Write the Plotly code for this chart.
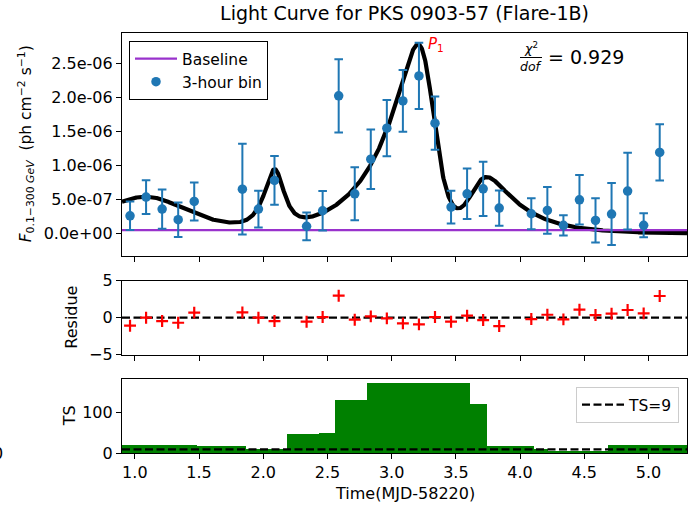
import numpy as np
import plotly.graph_objects as go

# ---------------- data ----------------
# 3-hour binned light curve, time in MJD-58220
time_bins = [0.9625, 1.0875, 1.2125, 1.3375, 1.4625, 1.8375, 1.9625, 2.0875,
             2.3375, 2.4625, 2.5875, 2.7125, 2.8375, 2.9625, 3.0875, 3.2125,
             3.3375, 3.4625, 3.5875, 3.7125, 3.8375, 4.0875, 4.2125, 4.3375,
             4.4625, 4.5875, 4.7125, 4.8375, 4.9625, 5.0875]
# photon flux (ph cm^-2 s^-1)
flux = [2.59e-7, 5.35e-7, 3.58e-7, 2.01e-7, 4.71e-7, 6.52e-7, 3.58e-7, 7.80e-7,
        1.03e-7, 3.33e-7, 2.027e-6, 5.83e-7, 1.094e-6, 1.551e-6, 1.953e-6, 2.321e-6,
        1.624e-6, 3.87e-7, 5.83e-7, 6.57e-7, 3.73e-7, 2.89e-7, 3.38e-7, 1.18e-7,
        4.95e-7, 1.91e-7, 2.84e-7, 6.23e-7, 1.18e-7, 1.193e-6]
flux_err = [2.09e-7, 2.48e-7, 2.90e-7, 2.55e-7, 2.80e-7, 6.70e-7, 2.70e-7, 3.59e-7,
            2.04e-7, 2.90e-7, 5.40e-7, 3.90e-7, 4.39e-7, 4.15e-7, 4.54e-7, 4.89e-7,
            3.93e-7, 2.40e-7, 3.73e-7, 4.00e-7, 2.60e-7, 2.29e-7, 3.44e-7, 1.50e-7,
            3.66e-7, 3.27e-7, 4.57e-7, 5.65e-7, 1.77e-7, 4.15e-7]
# normalised residuals of the fit
residue = [-1.08, 0.0, -0.45, -0.68, 0.68, 0.72, 0.0, -0.45, -0.54, 0.09,
           2.97, -0.27, 0.18, -0.09, -0.77, -0.9, 0.09, -0.54, 0.27, -0.32,
           -1.13, -0.18, 0.4, -0.22, 1.08, 0.36, 0.54, 1.04, 0.59, 2.93]
baseline_flux = 4.8e-8

# fitted flare components: F(t) = Fc + sum 2*F0 / (exp((t0-t)/Tr) + exp((t-t0)/Td))
flare_amp = [0.535e-6, 0.82e-6, 2.26e-6, 0.70e-6]
flare_t0 = [1.11, 2.095, 3.287, 3.665]
flare_rise = [0.35, 0.075, 0.30, 0.08]
flare_decay = [0.29, 0.06, 0.07, 0.28]
flare_const = 0.0
chi2_dof = 0.929

# test statistic per block
ts_edges = [0.90, 1.485, 1.867, 2.185, 2.437, 2.561, 2.808, 3.611, 3.743,
            4.112, 4.220, 4.687, 5.30]
ts_values = [18.0, 15.5, 8.0, 45.5, 48.0, 128.7, 172.0, 118.9, 15.6, 9.5, 3.0, 18.5]
ts_threshold = 9

x_ticks = [1.0, 1.5, 2.0, 2.5, 3.0, 3.5, 4.0, 4.5, 5.0]
x_tick_text = ["1.0", "1.5", "2.0", "2.5", "3.0", "3.5", "4.0", "4.5", "5.0"]
flux_ticks = [0.0, 5e-7, 1e-6, 1.5e-6, 2e-6, 2.5e-6]
flux_tick_text = ["0.0e+00", "5.0e-07", "1.0e-06", "1.5e-06", "2.0e-06", "2.5e-06"]
res_ticks = [-5, 0, 5]
ts_ticks = [0, 100]

X_RANGE = [0.90, 5.30]

# ---------------- model curve ----------------
t_model = np.linspace(X_RANGE[0], X_RANGE[1], 1500)
f_model = np.full_like(t_model, flare_const)
for a, t0, tr, td in zip(flare_amp, flare_t0, flare_rise, flare_decay):
    f_model += 2 * a / (np.exp((t0 - t_model) / tr) + np.exp((t_model - t0) / td))
i_peak = int(np.argmax(f_model))

BLUE = "#1f77b4"
fig = go.Figure()

# top panel
fig.add_trace(go.Scatter(x=t_model, y=f_model, mode="lines",
                         line=dict(color="black", width=4.2),
                         showlegend=False, xaxis="x", yaxis="y"))
fig.add_trace(go.Scatter(x=X_RANGE, y=[baseline_flux, baseline_flux], mode="lines",
                         line=dict(color="darkorchid", width=2.2), name="Baseline",
                         legend="legend", xaxis="x", yaxis="y"))
fig.add_trace(go.Scatter(x=time_bins, y=flux, mode="markers", name="3-hour bin",
                         marker=dict(color=BLUE, size=9.5),
                         error_y=dict(type="data", array=flux_err, color=BLUE,
                                      thickness=2, width=4.3),
                         legend="legend", xaxis="x", yaxis="y"))

# residue panel
fig.add_trace(go.Scatter(x=X_RANGE, y=[0, 0], mode="lines",
                         line=dict(color="black", width=2.2, dash="8px,3.5px"),
                         showlegend=False, xaxis="x2", yaxis="y2"))
fig.add_trace(go.Scatter(x=time_bins, y=residue, mode="markers",
                         marker=dict(symbol="cross-thin", size=8.5, color="red",
                                     line=dict(color="red", width=2.2)),
                         showlegend=False, xaxis="x2", yaxis="y2"))

# TS panel
ts_left = ts_edges[:-1]
ts_width = [b - a for a, b in zip(ts_edges[:-1], ts_edges[1:])]
fig.add_trace(go.Bar(x=ts_left, y=ts_values, width=ts_width, offset=0,
                     marker=dict(color="green", line=dict(width=0)),
                     showlegend=False, xaxis="x3", yaxis="y3"))
fig.add_trace(go.Scatter(x=X_RANGE, y=[ts_threshold, ts_threshold], mode="lines",
                         line=dict(color="black", width=2.2, dash="8px,3.5px"),
                         name="TS=9", legend="legend2", xaxis="x3", yaxis="y3"))

AX = dict(showline=True, linecolor="black", linewidth=1.2, mirror=True,
          ticks="outside", ticklen=5, tickwidth=1.2, tickcolor="black",
          showgrid=False, zeroline=False)
XA = dict(range=X_RANGE, tickvals=x_ticks, ticktext=x_tick_text, **AX)

H, W = 506, 699
ML, MR, MT, MB = 122, 12, 33, 53
PW, PH = W - ML - MR, H - MT - MB


def px(x):
    return (x - ML) / PW


def py(y):
    return (H - MB - y) / PH


fig.update_layout(
    width=W, height=H,
    margin=dict(l=ML, r=MR, t=MT, b=MB),
    paper_bgcolor="white", plot_bgcolor="white",
    font=dict(family="DejaVu Sans", size=16, color="black"),
    bargap=0,
    title=dict(text="Light Curve for PKS 0903-57 (Flare-1B)", x=px(404.5), xref="paper",
               xanchor="center", y=1 - 13 / H, yanchor="middle",
               font=dict(size=19)),
    xaxis=dict(domain=[0, 1], anchor="y", showticklabels=False, **XA),
    yaxis=dict(domain=[py(256), 1], anchor="x", range=[-0.334e-6, 2.954e-6],
               tickvals=flux_ticks, ticktext=flux_tick_text, **AX),
    xaxis2=dict(domain=[0, 1], anchor="y2", showticklabels=False, **XA),
    yaxis2=dict(domain=[py(354.7), py(280.7)], anchor="x2", range=[-5, 5],
                tickvals=res_ticks, **AX),
    xaxis3=dict(domain=[0, 1], anchor="y3", **XA),
    yaxis3=dict(domain=[0, py(379.3)], anchor="x3", range=[0, 181],
                tickvals=ts_ticks, **AX),
    legend=dict(x=px(129), y=py(41), xanchor="left", yanchor="top",
                bgcolor="white", bordercolor="black", borderwidth=1,
                font=dict(size=15.5), tracegroupgap=0, itemwidth=42),
    legend2=dict(x=px(679), y=py(387), xanchor="right", yanchor="top",
                 bgcolor="rgba(255,255,255,0.8)", bordercolor="#cccccc", borderwidth=1,
                 font=dict(size=15.5), itemwidth=42),
)

ann = [
    # axis titles
    dict(text="<i>F</i><sub>0.1\u2212300 <i>GeV</i></sub>  (ph cm<sup>\u22122</sup> s<sup>\u22121</sup>)",
         x=px(26), y=py(144.3), textangle=-90, font=dict(size=15.5)),
    dict(text="Residue", x=px(72), y=py(317.7), textangle=-90),
    dict(text="TS", x=px(69), y=py(416.3), textangle=-90),
    dict(text="Time(MJD-58220)", x=px(404.5), y=py(493)),
    dict(text="0", x=px(5), y=py(453), xanchor="right"),
    # reduced chi-square
    dict(text="<i>\u03c7</i><sup>2</sup>", x=px(531), y=py(48), font=dict(size=12.5)),
    dict(text="<i>dof</i>", x=px(531), y=py(66), font=dict(size=12.5)),
    dict(text="= %.3f" % chi2_dof, x=px(546), y=py(57), xanchor="left",
         font=dict(size=19)),
]
for a in ann:
    a.setdefault("xref", "paper")
    a.setdefault("yref", "paper")
    a.setdefault("showarrow", False)
    a.setdefault("xanchor", "center")
    a.setdefault("yanchor", "middle")
    fig.add_annotation(**a)

# peak label
fig.add_annotation(text="<i>P</i><sub>1</sub>", x=t_model[i_peak] + 0.065, y=f_model[i_peak],
                   xref="x", yref="y", showarrow=False, xanchor="left", yanchor="middle",
                   font=dict(size=15, color="red"))

fig.add_shape(type="line", xref="paper", yref="paper", x0=px(520), x1=px(542),
              y0=py(57.5), y1=py(57.5), line=dict(color="black", width=1))

fig.write_html("out.html")
